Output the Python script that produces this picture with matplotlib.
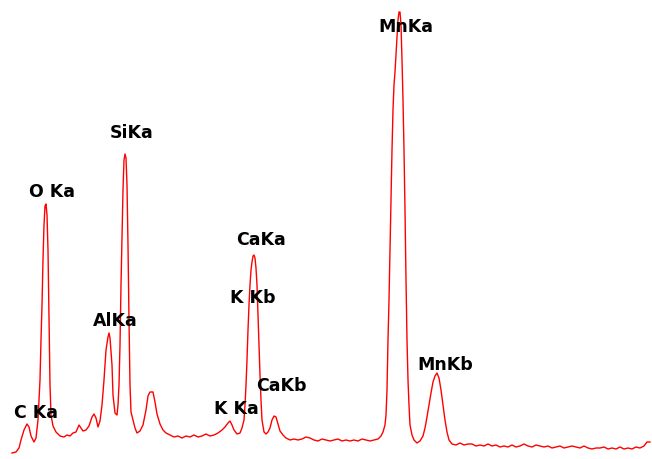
import matplotlib
matplotlib.use("Agg")
import matplotlib.pyplot as plt

# EDS spectrum: channel position and counts
channel = [
    12, 16, 19, 21, 24, 27, 29, 31, 34, 36, 38, 39, 40, 41, 42, 43, 44, 45, 46, 47,
    48, 49, 50, 51, 53, 56, 60, 64, 67, 70, 73, 76, 79, 81, 83, 86, 89, 92, 94, 96,
    98, 100, 102, 104, 106, 108, 109, 110, 112, 113, 115, 117, 118, 119, 120, 121, 122, 123, 124, 125,
    126, 127, 128, 129, 130, 131, 133, 135, 137, 140, 143, 146, 148, 150, 153, 155, 157, 160, 163, 166,
    170, 174, 178, 182, 186, 190, 194, 198, 202, 206, 210, 214, 218, 222, 225, 228, 230, 232, 234, 237,
    240, 242, 244, 245, 246, 247, 248, 249, 250, 251, 252, 253, 254, 255, 256, 257, 258, 259, 260, 261,
    262, 264, 266, 268, 270, 272, 274, 276, 278, 280, 283, 286, 290, 294, 298, 302, 306, 310, 314, 318,
    322, 326, 330, 334, 338, 342, 346, 350, 354, 358, 362, 366, 370, 374, 378, 381, 383, 385, 386, 387,
    388, 389, 390, 391, 392, 393, 394, 395, 396, 397, 398, 399, 400, 401, 402, 403, 404, 405, 406, 407,
    408, 409, 410, 412, 414, 417, 420, 423, 425, 427, 429, 431, 433, 435, 437, 439, 441, 443, 445, 447,
    449, 452, 456, 460, 464, 468, 472, 476, 480, 484, 488, 492, 496, 500, 504, 508, 512, 516, 520, 524,
    528, 532, 536, 540, 544, 548, 552, 556, 560, 564, 568, 572, 576, 580, 584, 588, 592, 596, 600, 604,
    608, 612, 616, 620, 624, 628, 632, 636, 640, 644, 647, 650,
]
counts = [
    6, 7, 11, 19, 29, 35, 32, 23, 17, 21, 39, 59, 79, 119, 154, 199, 234, 253, 255, 244,
    209, 139, 74, 44, 33, 27, 23, 22, 24, 23, 26, 27, 34, 31, 28, 29, 33, 42, 45, 41,
    32, 38, 54, 79, 109, 122, 126, 121, 94, 64, 46, 44, 54, 74, 114, 174, 224, 269, 299, 305,
    301, 274, 214, 139, 74, 47, 39, 31, 26, 28, 34, 49, 63, 67, 67, 57, 45, 35, 29, 26,
    24, 22, 23, 21, 23, 22, 24, 22, 23, 25, 23, 24, 26, 29, 32, 36, 38, 34, 29, 25,
    26, 31, 39, 54, 74, 99, 129, 154, 174, 189, 197, 203, 204, 201, 191, 174, 144, 114, 84, 59,
    39, 27, 25, 27, 31, 39, 43, 42, 35, 28, 24, 21, 19, 20, 19, 20, 22, 21, 19, 18,
    20, 19, 18, 19, 20, 18, 19, 18, 19, 18, 20, 19, 18, 19, 20, 23, 27, 34, 44, 69,
    119, 159, 209, 259, 309, 349, 374, 387, 404, 421, 439, 447, 447, 434, 399, 359, 309, 249, 179, 119,
    79, 54, 34, 24, 19, 16, 18, 23, 31, 42, 54, 66, 77, 83, 86, 81, 69, 54, 39, 27,
    19, 15, 14, 16, 14, 15, 15, 13, 14, 13, 15, 13, 14, 12, 13, 12, 14, 12, 13, 15,
    13, 12, 14, 13, 12, 13, 11, 12, 13, 11, 12, 13, 12, 11, 13, 11, 10, 11, 11, 12,
    10, 11, 10, 12, 10, 11, 10, 12, 11, 13, 17, 17,
]

# peak labels and where they sit
labels = ["C Ka", "O Ka", "AlKa", "SiKa", "K Ka", "K Kb", "CaKa", "CaKb", "MnKa", "MnKb"]
label_x = [36, 52, 115, 132, 236, 253, 261, 281, 406, 445]
label_y = [46, 267, 138, 326, 50, 161, 219, 73, 432, 94]

fig = plt.figure(figsize=(6.52, 4.59), dpi=100)
ax = fig.add_axes([0, 0, 1, 1])
ax.plot(channel, counts, color="#ff0000", linewidth=1.0)

for name, x, y in zip(labels, label_x, label_y):
    ax.text(x, y, name, ha="center", va="center", fontsize=12.5,
            fontweight="bold", color="black", family="DejaVu Sans")

ax.set_xlim(0, 652)
ax.set_ylim(0, 459)
ax.axis("off")

fig.savefig("out.png", dpi=100, facecolor="white")
